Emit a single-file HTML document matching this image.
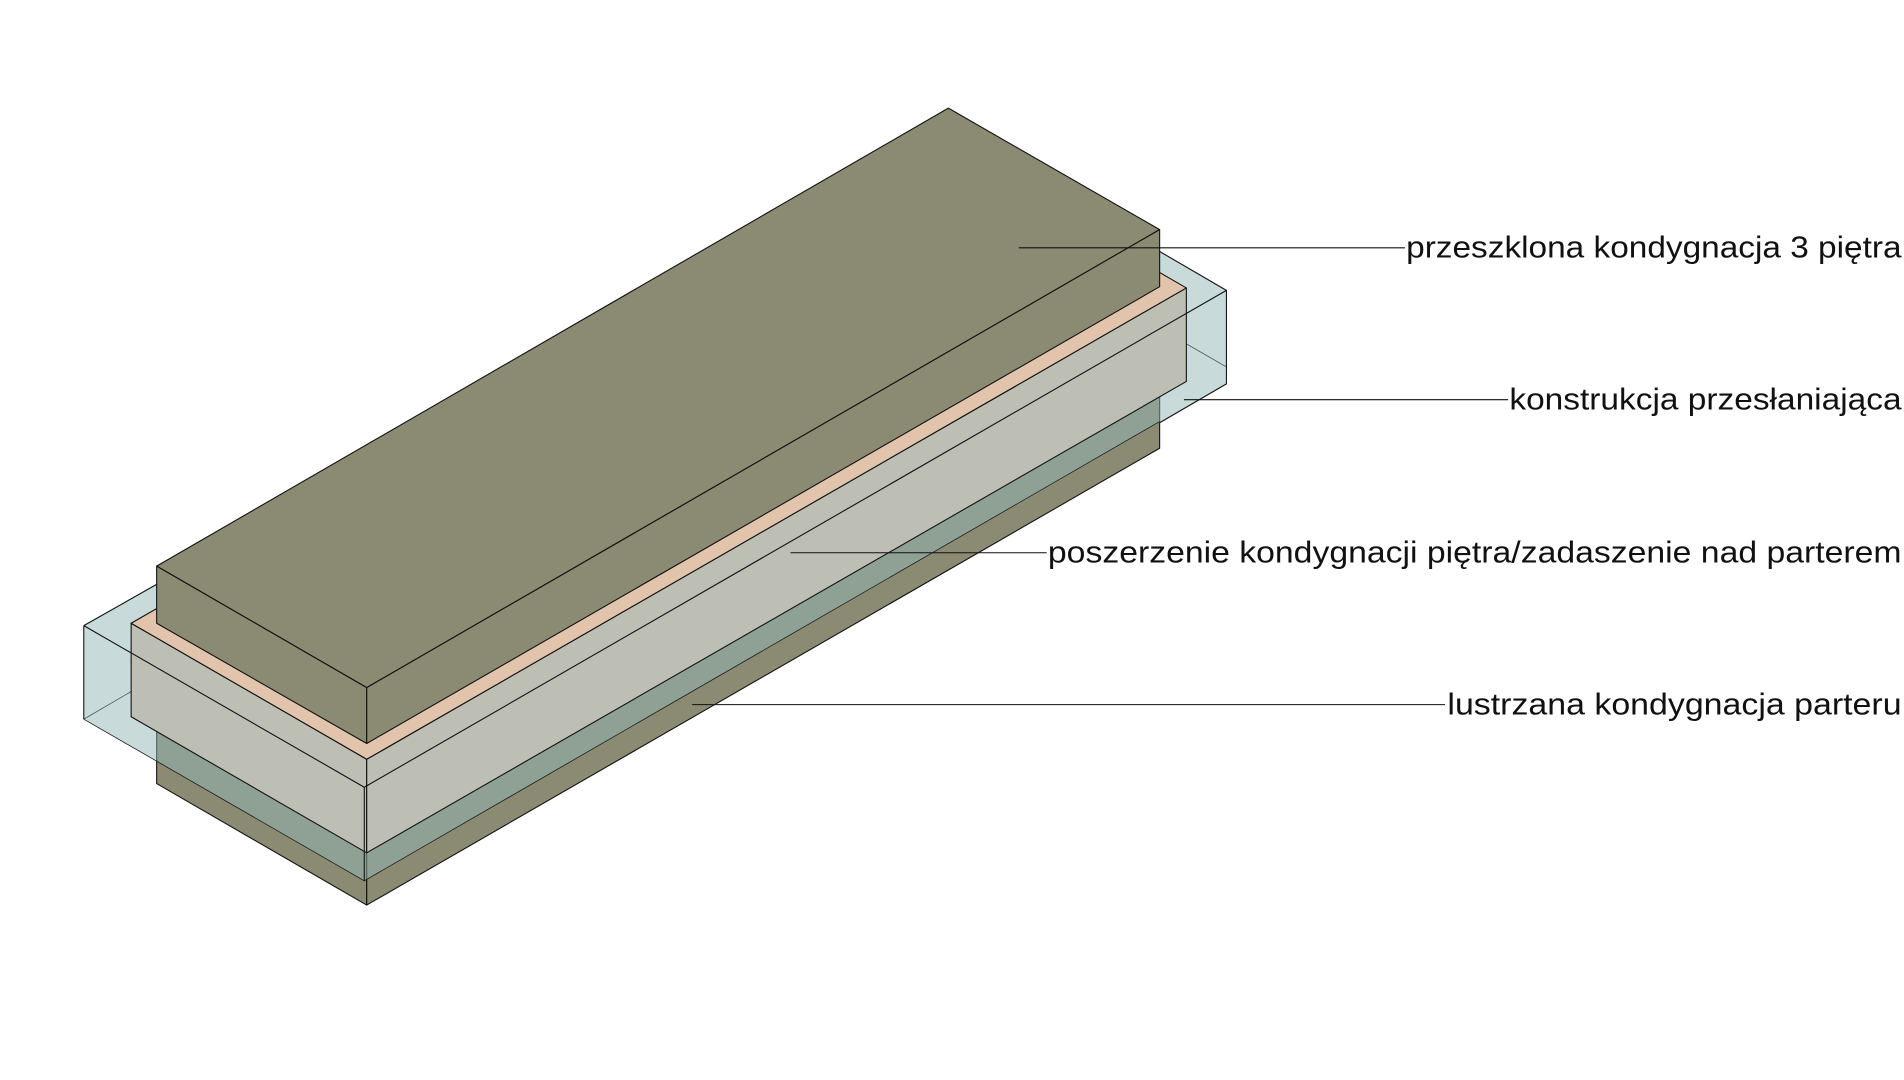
<!DOCTYPE html>
<html><head><meta charset="utf-8"><style>
html,body{margin:0;padding:0;background:#fff;width:1904px;height:1080px;overflow:hidden}
svg{display:block}
text{font-family:"Liberation Sans",sans-serif;font-size:25px;fill:#111}
</style></head><body>
<svg width="1904" height="1080" viewBox="0 0 1568 889" preserveAspectRatio="none" xmlns="http://www.w3.org/2000/svg">
<g stroke="#111" stroke-width="0.9" stroke-linejoin="round">
<polygon points="129,560 302,660 302,745 129,645" fill="#8b8a72"/>
<polygon points="302,660 955,283 955,369 302,745" fill="#8b8a72"/>
<polygon points="69,515 779,106 1010,239 1010,316 300,725 69,592" fill="rgba(147,181,181,0.5)" stroke="none"/>
<line x1="69" y1="592" x2="129" y2="557" stroke="#3a4a4a" stroke-width="0.6"/>
<line x1="955" y1="348" x2="1010" y2="316" stroke="#111"/>
<line x1="977" y1="283" x2="1010" y2="302" stroke="#3a4a4a" stroke-width="0.6"/>
<polygon points="108,513 302,625 302,702 108,590" fill="#bdbeb4"/>
<polygon points="302,625 977,237 977,314 302,702" fill="#bdbeb4"/>
<polygon points="108,513 783,125 977,237 302,625" fill="#e2c4ac"/>
<polygon points="129,466 781,89 955,189 302,566" fill="#8b8a72"/>
<polygon points="129,466 302,566 302,612 129,513" fill="#8b8a72"/>
<polygon points="302,566 955,189 955,236 302,612" fill="#8b8a72"/>
<polyline points="69,515 300,648 1010,239 1010,316" fill="none"/>
<line x1="69" y1="515" x2="69" y2="592"/>
<line x1="300" y1="648" x2="300" y2="725"/>
<line x1="69" y1="515" x2="129" y2="481"/>
<line x1="955" y1="207" x2="1010" y2="239"/>
<polyline points="69,592 300,725 955,347" fill="none" stroke-width="0.6"/>
</g>
<g stroke="#111" stroke-width="0.9">
<line x1="839" y1="204" x2="1157" y2="204"/>
<line x1="975" y1="329" x2="1242" y2="329"/>
<line x1="651" y1="455" x2="862" y2="455"/>
<line x1="570" y1="580" x2="1190" y2="580"/>
</g>
<text x="1158" y="212" textLength="408" lengthAdjust="spacingAndGlyphs">przeszklona kondygnacja 3 piętra</text>
<text x="1243" y="337" textLength="323" lengthAdjust="spacingAndGlyphs">konstrukcja przesłaniająca</text>
<text x="863" y="463" textLength="703" lengthAdjust="spacingAndGlyphs">poszerzenie kondygnacji piętra/zadaszenie nad parterem</text>
<text x="1192" y="588" textLength="374" lengthAdjust="spacingAndGlyphs">lustrzana kondygnacja parteru</text>
</svg>
</body></html>
